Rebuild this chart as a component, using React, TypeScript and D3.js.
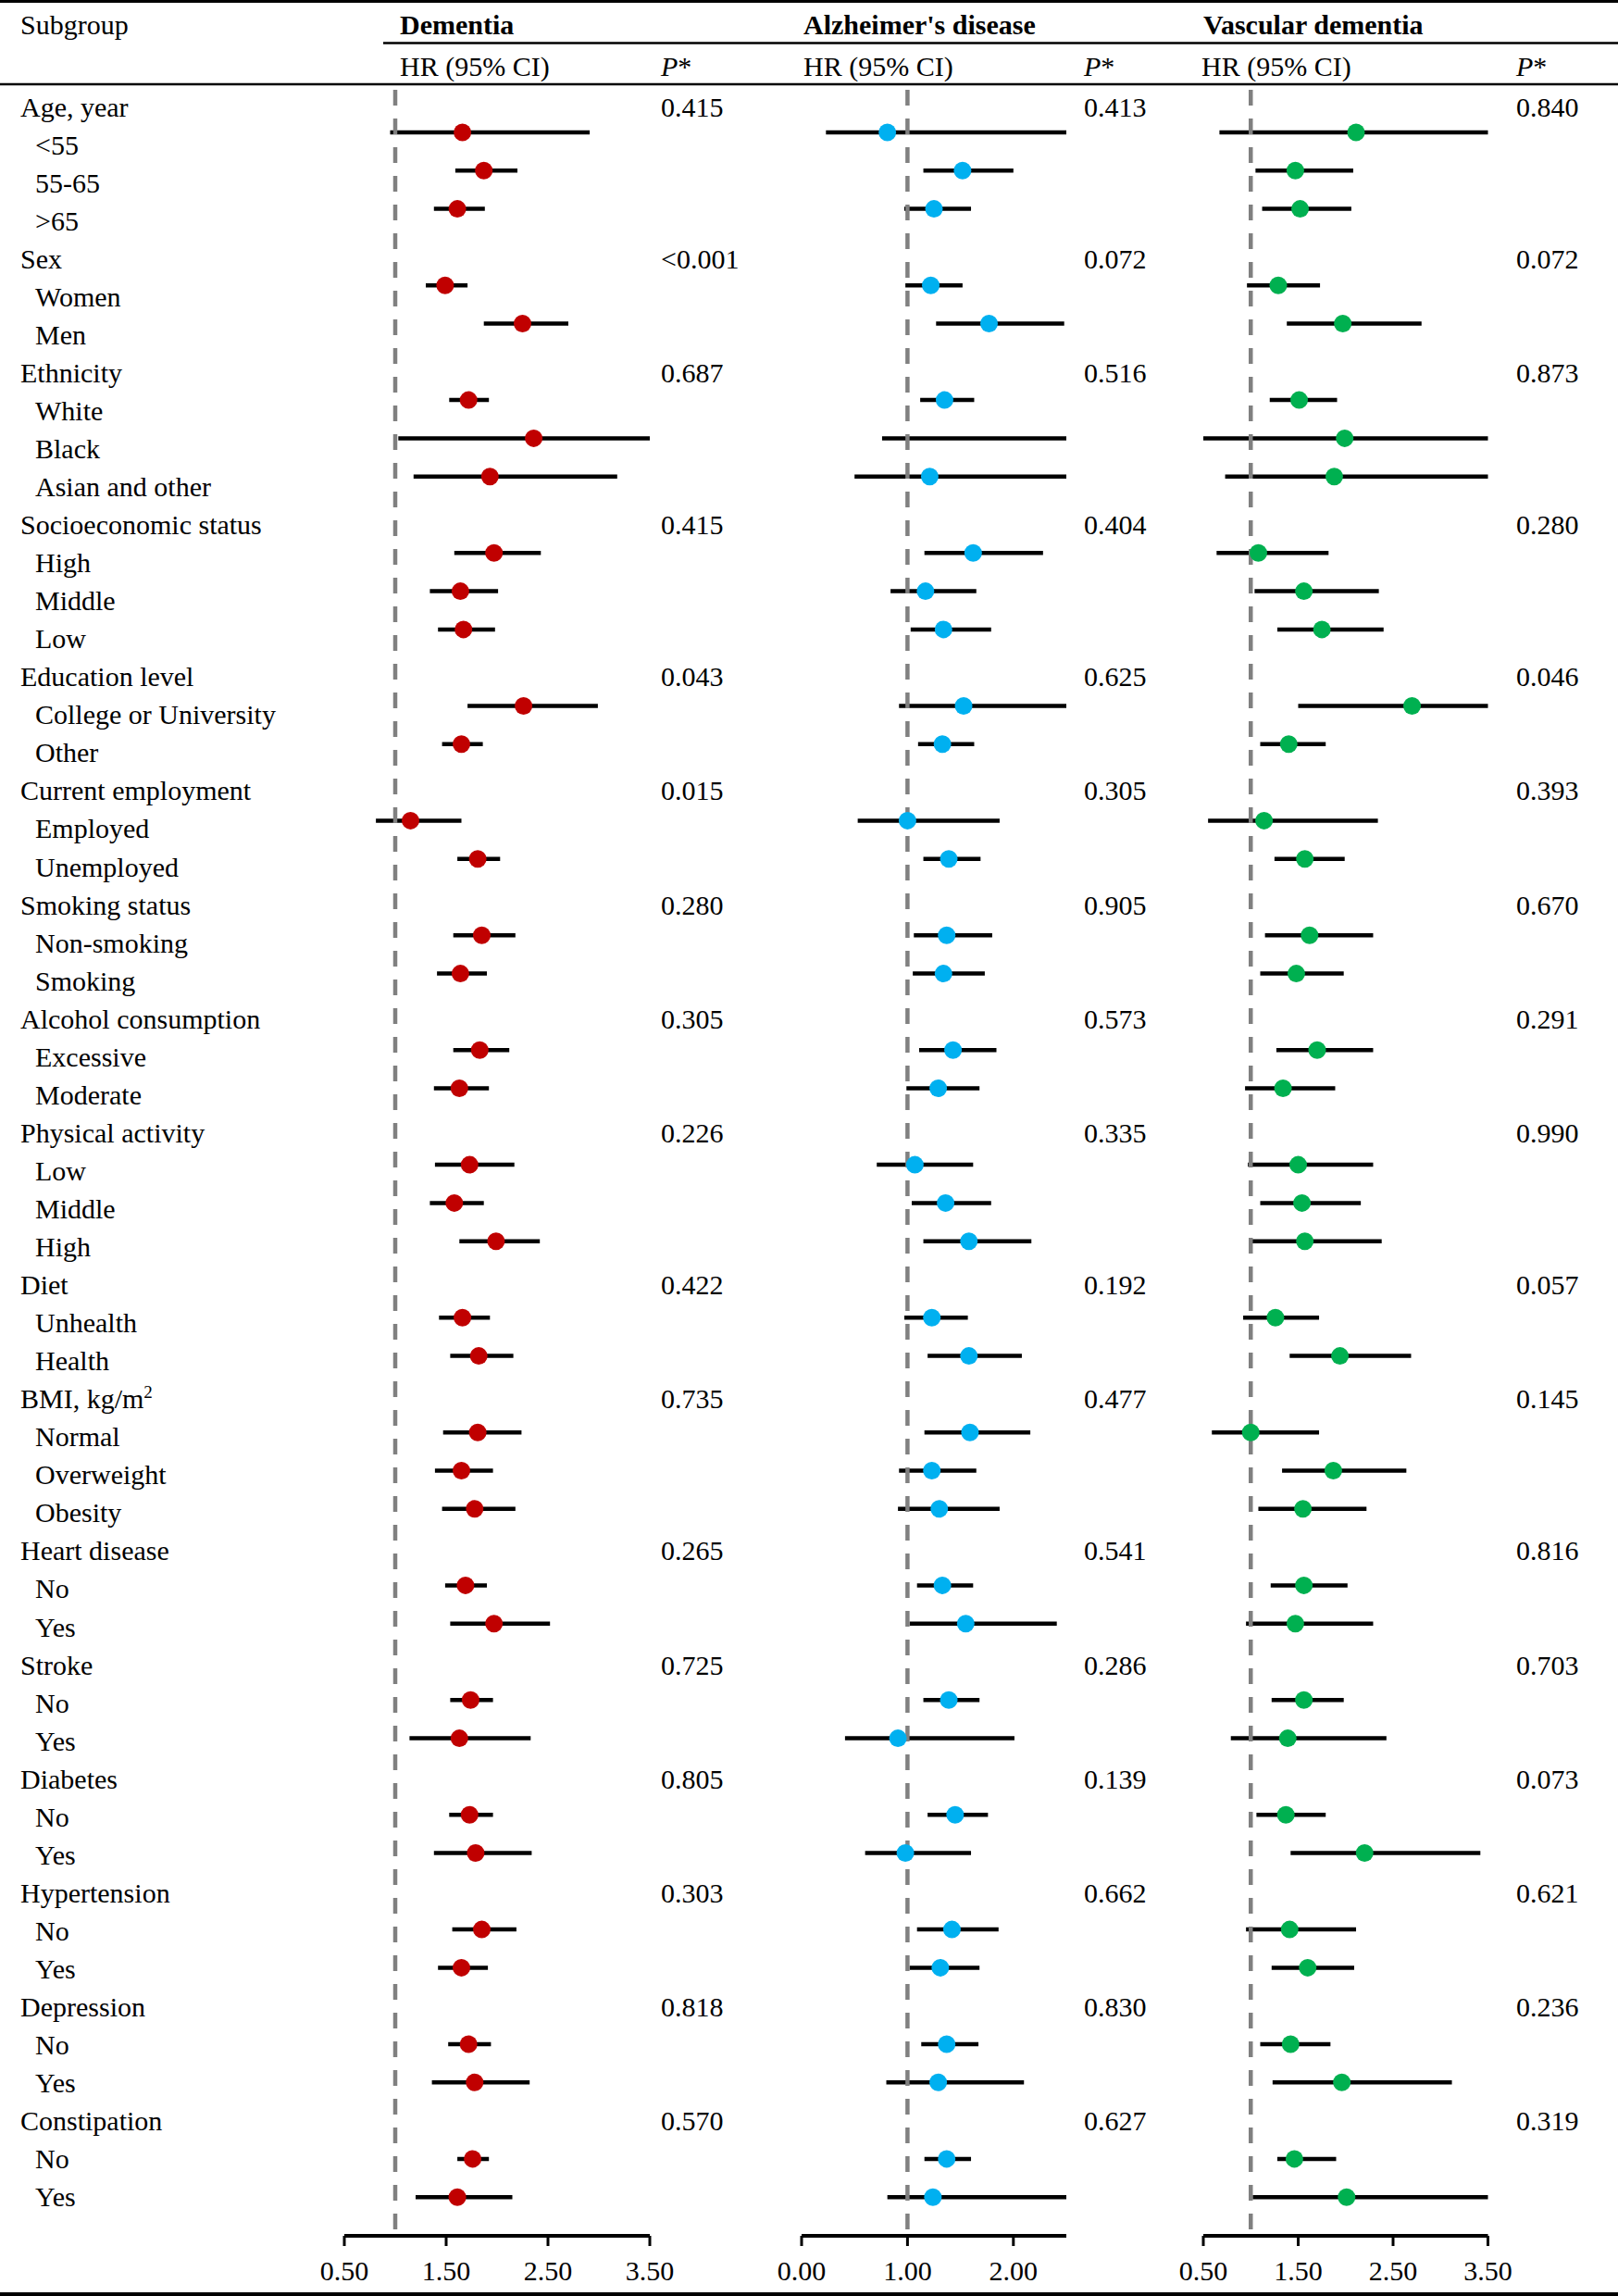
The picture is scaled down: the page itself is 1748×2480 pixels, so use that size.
import React from "react";
import * as d3 from "d3";

const rowLabels: string[] = [
  "Age, year", "<55", "55-65", ">65",
  "Sex", "Women", "Men",
  "Ethnicity", "White", "Black", "Asian and other",
  "Socioeconomic status", "High", "Middle", "Low",
  "Education level", "College or University", "Other",
  "Current employment", "Employed", "Unemployed",
  "Smoking status", "Non-smoking", "Smoking",
  "Alcohol consumption", "Excessive", "Moderate",
  "Physical activity", "Low", "Middle", "High",
  "Diet", "Unhealth", "Health",
  "BMI, kg/m^2", "Normal", "Overweight", "Obesity",
  "Heart disease", "No", "Yes",
  "Stroke", "No", "Yes",
  "Diabetes", "No", "Yes",
  "Hypertension", "No", "Yes",
  "Depression", "No", "Yes",
  "Constipation", "No", "Yes",
];
const rowLevel: number[] = [
  0, 1, 1, 1,
  0, 1, 1,
  0, 1, 1, 1,
  0, 1, 1, 1,
  0, 1, 1,
  0, 1, 1,
  0, 1, 1,
  0, 1, 1,
  0, 1, 1, 1,
  0, 1, 1,
  0, 1, 1, 1,
  0, 1, 1,
  0, 1, 1,
  0, 1, 1,
  0, 1, 1,
  0, 1, 1,
  0, 1, 1,
];

const pDementia = ["0.415", "<0.001", "0.687", "0.415", "0.043", "0.015", "0.280", "0.305", "0.226", "0.422", "0.735", "0.265", "0.725", "0.805", "0.303", "0.818", "0.570"];
const pAD = ["0.413", "0.072", "0.516", "0.404", "0.625", "0.305", "0.905", "0.573", "0.335", "0.192", "0.477", "0.541", "0.286", "0.139", "0.662", "0.830", "0.627"];
const pVD = ["0.840", "0.072", "0.873", "0.280", "0.046", "0.393", "0.670", "0.291", "0.990", "0.057", "0.145", "0.816", "0.703", "0.073", "0.621", "0.236", "0.319"];

const demLo = [0.95, 1.59, 1.38, 1.30, 1.87, 1.53, 1.03, 1.18, 1.58, 1.34, 1.42, 1.71, 1.46, 0.81, 1.61, 1.57, 1.41, 1.57, 1.38, 1.39, 1.34, 1.63, 1.43, 1.54, 1.47, 1.39, 1.46, 1.49, 1.54, 1.54, 1.14, 1.53, 1.38, 1.56, 1.42, 1.52, 1.36, 1.61, 1.20];
const demHR = [1.66, 1.87, 1.61, 1.49, 2.25, 1.72, 2.36, 1.93, 1.97, 1.64, 1.67, 2.26, 1.65, 1.15, 1.81, 1.85, 1.64, 1.83, 1.63, 1.73, 1.58, 1.99, 1.66, 1.82, 1.81, 1.65, 1.78, 1.69, 1.97, 1.74, 1.63, 1.73, 1.79, 1.85, 1.65, 1.72, 1.78, 1.76, 1.61];
const demHi = [2.91, 2.20, 1.88, 1.71, 2.70, 1.92, 3.50, 3.18, 2.43, 2.01, 1.98, 2.99, 1.86, 1.65, 2.03, 2.18, 1.90, 2.12, 1.92, 2.17, 1.87, 2.42, 1.93, 2.16, 2.24, 1.96, 2.18, 1.90, 2.52, 1.96, 2.33, 1.96, 2.34, 2.19, 1.91, 1.94, 2.32, 1.92, 2.15];

const adLo = [0.23, 1.15, 0.97, 0.98, 1.27, 1.12, 0.76, 0.50, 1.16, 0.84, 1.03, 0.92, 1.10, 0.53, 1.15, 1.06, 1.05, 1.11, 0.99, 0.71, 1.04, 1.15, 0.97, 1.19, 1.16, 0.92, 0.91, 1.09, 1.02, 1.15, 0.41, 1.19, 0.60, 1.09, 1.02, 1.13, 0.80, 1.16, 0.81];
const adHR: (number | null)[] = [0.81, 1.52, 1.25, 1.22, 1.77, 1.35, null, 1.21, 1.62, 1.17, 1.34, 1.53, 1.33, 1.00, 1.39, 1.37, 1.34, 1.43, 1.29, 1.07, 1.36, 1.58, 1.23, 1.58, 1.59, 1.23, 1.30, 1.33, 1.55, 1.39, 0.91, 1.45, 0.98, 1.42, 1.31, 1.37, 1.29, 1.37, 1.24];
const adHi = [2.50, 2.00, 1.60, 1.52, 2.48, 1.63, 2.50, 2.50, 2.28, 1.65, 1.79, 2.50, 1.63, 1.87, 1.69, 1.80, 1.73, 1.84, 1.68, 1.62, 1.79, 2.17, 1.57, 2.08, 2.16, 1.65, 1.87, 1.62, 2.41, 1.68, 2.01, 1.76, 1.60, 1.86, 1.68, 1.67, 2.10, 1.60, 2.50];

const vdLo = [0.67, 1.05, 1.12, 0.96, 1.38, 1.20, 0.50, 0.73, 0.64, 1.04, 1.28, 1.50, 1.10, 0.55, 1.25, 1.15, 1.10, 1.27, 0.94, 0.97, 1.10, 1.01, 0.92, 1.41, 0.59, 1.33, 1.08, 1.21, 0.95, 1.22, 0.79, 1.06, 1.42, 0.95, 1.22, 1.10, 1.23, 1.28, 1.02];
const vdHR = [2.11, 1.47, 1.52, 1.29, 1.97, 1.51, 1.99, 1.88, 1.08, 1.56, 1.75, 2.70, 1.40, 1.14, 1.57, 1.62, 1.48, 1.70, 1.34, 1.50, 1.54, 1.57, 1.26, 1.94, 1.00, 1.87, 1.55, 1.56, 1.47, 1.56, 1.39, 1.37, 2.20, 1.41, 1.60, 1.42, 1.96, 1.46, 2.01];
const vdHi = [3.50, 2.08, 2.06, 1.73, 2.80, 1.91, 3.50, 3.50, 1.82, 2.35, 2.40, 3.50, 1.79, 2.34, 1.99, 2.29, 1.98, 2.29, 1.89, 2.29, 2.16, 2.38, 1.72, 2.69, 1.72, 2.64, 2.22, 2.02, 2.29, 1.98, 2.43, 1.79, 3.42, 2.11, 2.09, 1.84, 3.12, 1.90, 3.50];

const panelTitles = ["Dementia", "Alzheimer's disease", "Vascular dementia"];
const demTicks = [0.5, 1.5, 2.5, 3.5];
const adTicks = [0, 1, 2];
const vdTicks = [0.5, 1.5, 2.5, 3.5];

const W = 1748;
const H = 2480;
const FONT = "'Liberation Serif', 'Times New Roman', serif";
const FS = 30;
const AXIS_Y = 2415;

export default function App() {
  const textY = d3.scaleLinear().domain([0, 55]).range([125.5, 125.5 + 55 * 41.05]);
  const markY = d3.scaleLinear().domain([1, 55]).range([143, 143 + 54 * 41.3]);

  const panels = [
    { title: panelTitles[0], x: d3.scaleLinear().domain([0.5, 3.5]).range([372, 702]), ticks: demTicks, lo: demLo, hr: demHR as (number | null)[], hi: demHi, p: pDementia, color: "#C00000", titleX: 432, hrX: 432, pX: 714, lineX: 414 },
    { title: panelTitles[1], x: d3.scaleLinear().domain([0, 2.5]).range([866, 1152]), ticks: adTicks, lo: adLo, hr: adHR, hi: adHi, p: pAD, color: "#00B0F0", titleX: 868, hrX: 868, pX: 1171 },
    { title: panelTitles[2], x: d3.scaleLinear().domain([0.5, 3.5]).range([1300, 1607.5]), ticks: vdTicks, lo: vdLo, hr: vdHR as (number | null)[], hi: vdHi, p: pVD, color: "#00B050", titleX: 1300, hrX: 1298, pX: 1638 },
  ];

  // map rows to subgroup / group indices
  const rows: { i: number; label: string; level: number; sub: number; grp: number }[] = [];
  let s = -1;
  let g = -1;
  rowLabels.forEach((label, i) => {
    if (rowLevel[i] === 0) g += 1;
    else s += 1;
    rows.push({ i, label, level: rowLevel[i], sub: rowLevel[i] === 1 ? s : -1, grp: rowLevel[i] === 0 ? g : -1 });
  });

  const renderLabel = (label: string) => {
    if (label.includes("^")) {
      const [a, b] = label.split("^");
      return (
        <>
          {a}
          <tspan fontSize={19} dy={-11}>{b}</tspan>
        </>
      );
    }
    return label;
  };

  return (
    <svg width={W} height={H} style={{ position: "absolute", left: 0, top: 0, background: "#fff" }} fontFamily={FONT}>
      <rect x={0} y={0} width={W} height={H} fill="#fff" />
      {/* header rules */}
      <line x1={0} x2={W} y1={1.5} y2={1.5} stroke="#000" strokeWidth={3} />
      <line x1={414} x2={W} y1={46.5} y2={46.5} stroke="#000" strokeWidth={2.5} />
      <line x1={0} x2={W} y1={91} y2={91} stroke="#000" strokeWidth={2.5} />
      <line x1={0} x2={W} y1={2478} y2={2478} stroke="#000" strokeWidth={4} />

      <text x={22} y={37} fontSize={FS}>Subgroup</text>
      {panels.map((p) => (
        <g key={p.title}>
          <text x={p.titleX} y={37} fontSize={FS} fontWeight="bold">{p.title}</text>
          <text x={p.hrX} y={82} fontSize={FS}>HR (95% CI)</text>
          <text x={p.pX} y={82} fontSize={FS}>
            <tspan fontStyle="italic">P</tspan>*
          </text>
        </g>
      ))}

      {/* row labels */}
      {rows.map((r) => (
        <text key={"l" + r.i} x={r.level === 0 ? 22 : 38} y={textY(r.i)} fontSize={FS}>
          {renderLabel(r.label)}
        </text>
      ))}

      {panels.map((p, pi) => (
        <g key={"panel" + pi}>
          {/* p values */}
          {rows.filter((r) => r.level === 0).map((r) => (
            <text key={"p" + r.i} x={p.pX} y={textY(r.i)} fontSize={FS}>{p.p[r.grp]}</text>
          ))}
          {/* CI lines */}
          {rows.filter((r) => r.level === 1).map((r) => (
            <line
              key={"ci" + r.i}
              x1={p.x(p.lo[r.sub])}
              x2={p.x(p.hi[r.sub])}
              y1={markY(r.i)}
              y2={markY(r.i)}
              stroke="#000"
              strokeWidth={4.5}
            />
          ))}
          {/* reference line */}
          <line x1={p.x(1)} x2={p.x(1)} y1={97} y2={AXIS_Y} stroke="#808080" strokeWidth={4.5} strokeDasharray="17,14" />
          {/* points */}
          {rows.filter((r) => r.level === 1 && p.hr[r.sub] != null).map((r) => (
            <circle key={"pt" + r.i} cx={p.x(p.hr[r.sub] as number)} cy={markY(r.i)} r={9.5} fill={p.color} />
          ))}
          {/* axis */}
          <line x1={p.x.range()[0]} x2={p.x.range()[1]} y1={AXIS_Y} y2={AXIS_Y} stroke="#000" strokeWidth={4} />
          {p.ticks.map((t) => (
            <g key={"t" + t}>
              <line x1={p.x(t)} x2={p.x(t)} y1={AXIS_Y} y2={AXIS_Y + 11} stroke="#000" strokeWidth={3} />
              <text x={p.x(t)} y={2463} fontSize={FS} textAnchor="middle">{d3.format(".2f")(t)}</text>
            </g>
          ))}
        </g>
      ))}
    </svg>
  );
}
